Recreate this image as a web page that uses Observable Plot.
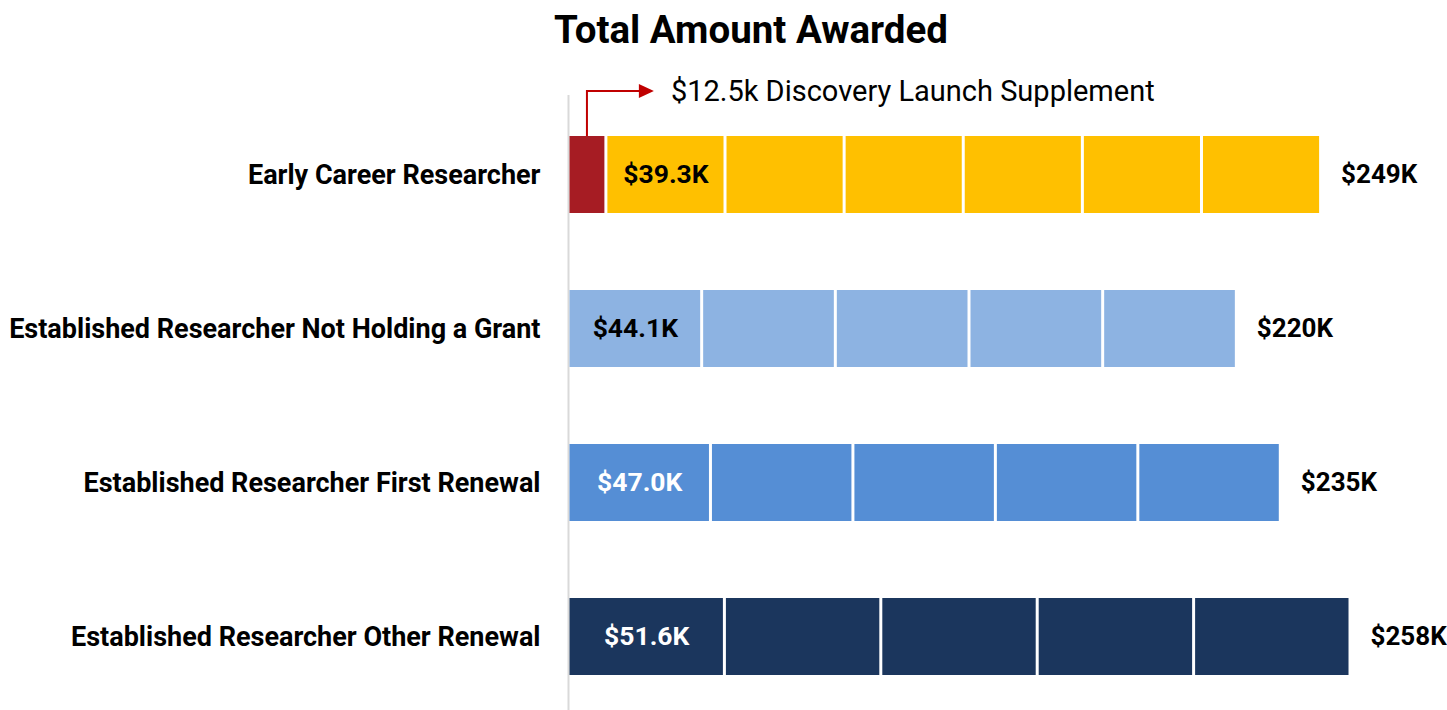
<!DOCTYPE html>
<html><head><meta charset="utf-8">
<script src="https://cdn.jsdelivr.net/npm/d3@7"></script>
<script src="https://cdn.jsdelivr.net/npm/@observablehq/plot@0.6"></script>
<style>
body{margin:0;background:#fff;font-family:"Roboto",sans-serif;}
#title{width:1447px;box-sizing:border-box;padding-left:55px;text-align:center;font-weight:bold;font-size:38.5px;height:60px;line-height:60px;color:#000;}
</style></head><body>
<div id="title">Total Amount Awarded</div>
<div id="chart"></div>
<script>
const categories = [
  "Early Career Researcher",
  "Established Researcher Not Holding a Grant",
  "Established Researcher First Renewal",
  "Established Researcher Other Renewal"
];
const annualAmounts = [39.3, 44.1, 47.0, 51.6];   // $K per year
const yearCounts = [6, 5, 5, 5];
const supplementAmounts = [12.5, 0, 0, 0];         // $K
const annualLabels = ["$39.3K", "$44.1K", "$47.0K", "$51.6K"];
const totalLabels = ["$249K", "$220K", "$235K", "$258K"];
const supplementText = "$12.5k Discovery Launch Supplement";

const seriesColors = ["#A61C23", "#FFC000", "#8DB3E2", "#558ED5", "#1B365D"];
const labelColors = ["#000", "#000", "#fff", "#fff"];

// build segment table
const segments = [];
categories.forEach((c, i) => {
  if (supplementAmounts[i] > 0) segments.push({category: c, amount: supplementAmounts[i], series: "Supplement"});
  for (let k = 0; k < yearCounts[i]; k++) segments.push({category: c, amount: annualAmounts[i], series: c});
});
const firstLabels = categories.map((c, i) => ({
  category: c, x: supplementAmounts[i] + annualAmounts[i] / 2, label: annualLabels[i], color: labelColors[i]
}));
const totals = categories.map((c, i) => ({
  category: c, x: supplementAmounts[i] + annualAmounts[i] * yearCounts[i], label: totalLabels[i]
}));

function supplementArrow(index, scales, values, dims) {
  const g = d3.create("svg:g");
  const x0 = scales.x(supplementAmounts[0] / 2);
  const yTop = scales.y(categories[0]);
  const yLine = dims.marginTop - 4;
  const xText = scales.x(supplementAmounts[0]) + 65;
  const xTip = xText - 17;
  g.append("path")
    .attr("d", `M${x0},${yTop} V${yLine} H${xTip - 14}`)
    .attr("fill", "none").attr("stroke", "#C00000").attr("stroke-width", 2);
  g.append("path")
    .attr("d", `M${xTip - 15},${yLine - 7} L${xTip},${yLine} L${xTip - 15},${yLine + 7} Z`)
    .attr("fill", "#C00000");
  g.append("text")
    .attr("x", xText).attr("y", yLine).attr("dy", "0.35em")
    .attr("text-anchor", "start")
    .attr("font-size", 29).attr("fill", "#000")
    .text(supplementText);
  return g.node();
}

const plot = Plot.plot({
  width: 1447,
  height: 650,
  marginLeft: 568,
  marginRight: 0,
  marginTop: 35,
  marginBottom: 0,
  style: {fontFamily: '"Roboto",sans-serif', background: "#fff", overflow: "visible"},
  x: {domain: [0, 290], axis: null},
  y: {domain: categories, paddingInner: 0.5, paddingOuter: 0.236, align: 0.534, label: null},
  color: {domain: ["Supplement", ...categories], range: seriesColors},
  marks: [
    Plot.ruleX([0], {stroke: "#D9D9D9", strokeWidth: 2}),
    Plot.barX(segments, {y: "category", x: "amount", fill: "series", insetLeft: 1.5, insetRight: 1.5}),
    Plot.text(firstLabels, {y: "category", x: "x", text: "label", fill: "color", fontSize: 26.5, fontWeight: "bold"}),
    Plot.text(totals, {y: "category", x: "x", text: "label", dx: 20, textAnchor: "start", fill: "#000", fontSize: 26, fontWeight: "bold"}),
    Plot.axisY({tickSize: 0, tickPadding: 28, fontSize: 27, fontWeight: "bold", fill: "#000", label: null}),
    supplementArrow
  ]
});
document.getElementById("chart").appendChild(plot);
</script>
</body></html>
